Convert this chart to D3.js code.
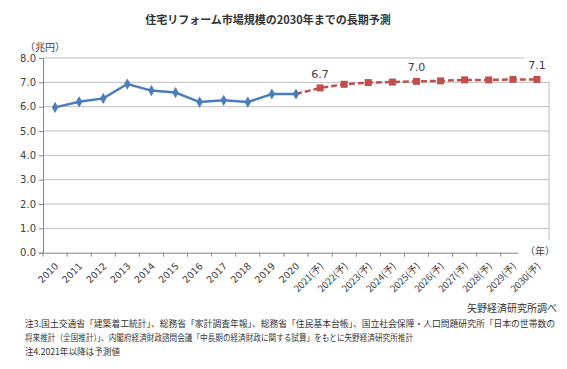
<!DOCTYPE html>
<html><head><meta charset="utf-8">
<script src="https://cdn.jsdelivr.net/npm/d3@7"></script>
<style>body{margin:0;background:#fff}svg{display:block}</style>
</head><body><svg id="c" width="567" height="369"></svg>
<script>
const titleText = "住宅リフォーム市場規模の2030年までの長期予測";
const actualYears = ["2010","2011","2012","2013","2014","2015","2016","2017","2018","2019","2020"];
const actualValues = [5.97,6.2,6.34,6.93,6.66,6.58,6.19,6.26,6.19,6.52,6.52];
const forecastYears = ["2021(予)","2022(予)","2023(予)","2024(予)","2025(予)","2026(予)","2027(予)","2028(予)","2029(予)","2030(予)"];
const forecastValues = [6.77,6.92,6.99,7.01,7.04,7.06,7.1,7.1,7.12,7.12];
const yTicks = [0,1,2,3,4,5,6,7,8];
const labelYears = ["2021(予)","2025(予)","2030(予)"];
const labelTexts = ["6.7","7.0","7.1"];
const yUnit = "（兆円）";
const xUnit = "（年）";
const sourceText = "矢野経済研究所調べ";
const notes = [
 "注3.国土交通省「建築着工統計」、総務省「家計調査年報」、総務省「住民基本台帳」、国立社会保障・人口問題研究所「日本の世帯数の",
 "将来推計（全国推計）」、内閣府経済財政諮問会議「中長期の経済財政に関する試算」をもとに矢野経済研究所推計",
 "注4.2021年以降は予測値"
];

const svg = d3.select("#c");
const JP = "'Noto Sans CJK JP','Noto Sans',sans-serif";
const NUM = "'DejaVu Sans',Verdana,sans-serif";
const cats = actualYears.concat(forecastYears);
const x = d3.scaleBand().domain(cats).range([43,549]);
const y = d3.scaleLinear().domain([0,8]).range([252.7,58]);
const xc = c => x(c) + x.bandwidth()/2;

// title
svg.append("text").attr("x",268).attr("y",24).attr("text-anchor","middle")
  .attr("font-family",JP).attr("font-size",11).attr("font-weight","bold").attr("fill","#333")
  .text(titleText);

// gridlines
svg.append("g").selectAll("line").data(yTicks.filter(d=>d>0)).join("line")
  .attr("x1",43).attr("x2",549).attr("y1",d=>y(d)).attr("y2",d=>y(d))
  .attr("stroke","#bdbdbd").attr("stroke-width",1);
// right border
svg.append("line").attr("x1",549).attr("x2",549).attr("y1",y(8)).attr("y2",y(0))
  .attr("stroke","#bdbdbd");

// y axis
const ya = svg.append("g").attr("transform","translate(43,0)")
  .call(d3.axisLeft(y).tickValues(yTicks).tickFormat(d3.format(".1f")).tickSize(4).tickPadding(3));
ya.select(".domain").attr("stroke","#868686");
ya.selectAll(".tick line").attr("stroke","#868686");
ya.selectAll("text").attr("font-family",NUM).attr("font-size",10).attr("fill","#404040");

// x axis
const xa = svg.append("g").attr("transform",`translate(0,${y(0)})`)
  .call(d3.axisBottom(x).tickSize(0).tickFormat(""));
xa.select(".domain").attr("stroke","#868686");
svg.append("g").selectAll("line").data(cats.concat([null])).join("line")
  .attr("x1",(d,i)=>43+i*x.step()).attr("x2",(d,i)=>43+i*x.step())
  .attr("y1",y(0)).attr("y2",y(0)+4).attr("stroke","#868686");
svg.append("g").selectAll("text").data(cats).join("text")
  .attr("transform",d=>`translate(${xc(d)+4},${y(0)+14}) rotate(-45)`)
  .attr("text-anchor","end").attr("font-family",d=>d.length>4?JP:NUM)
  .attr("font-size",9.5).attr("fill","#404040").text(d=>d);

// unit labels
svg.append("text").attr("x",25).attr("y",51).attr("font-family",JP).attr("font-size",10).attr("fill","#404040").text(yUnit);
svg.append("rect").attr("x",518).attr("y",240).attr("width",45).attr("height",22).attr("fill","#fff");
svg.append("text").attr("x",525).attr("y",255).attr("font-family",JP).attr("font-size",10).attr("fill","#404040").text(xUnit);

// label boxes
const lab = labelYears.map((c,i)=>{
  const v = forecastValues[forecastYears.indexOf(c)];
  return {c, t: labelTexts[i], x: xc(c), b: y(v)-10};
});
svg.append("g").selectAll("rect").data(lab).join("rect")
  .attr("x",d=>d.x-13).attr("width",26).attr("y",d=>d.b-12)
  .attr("height",d=>Math.min(24, y(7)-1-(d.b-12))).attr("fill","#fff");

// series
const blue = "#4a7ebb", red = "#c0504d";
const line = d3.line().x(d=>xc(d[0])).y(d=>y(d[1]));
const act = actualYears.map((c,i)=>[c,actualValues[i]]);
const fc = [[actualYears[actualYears.length-1], actualValues[actualValues.length-1]]]
  .concat(forecastYears.map((c,i)=>[c,forecastValues[i]]));
svg.append("path").datum(fc).attr("d",line).attr("fill","none").attr("stroke",red)
  .attr("stroke-width",2.5).attr("stroke-dasharray","6,3");
svg.append("path").datum(act).attr("d",line).attr("fill","none").attr("stroke",blue)
  .attr("stroke-width",2.5);
svg.append("g").selectAll("path").data(act).join("path")
  .attr("transform",d=>`translate(${xc(d[0])},${y(d[1])})`)
  .attr("d",d3.symbol(d3.symbolDiamond,36)).attr("fill",blue);
svg.append("g").selectAll("rect").data(fc.slice(1)).join("rect")
  .attr("x",d=>xc(d[0])-3.5).attr("y",d=>y(d[1])-3.5).attr("width",7).attr("height",7).attr("fill",red);

// data labels
svg.append("g").selectAll("text").data(lab).join("text")
  .attr("x",d=>d.x).attr("y",d=>d.b).attr("text-anchor","middle")
  .attr("font-family",NUM).attr("font-size",11).attr("fill","#404040").text(d=>d.t);

// source and notes
svg.append("text").attr("x",557).attr("y",312).attr("text-anchor","end")
  .attr("font-family",JP).attr("font-size",10).attr("fill","#333").text(sourceText);
const noteW = [530, 388, null];
svg.append("g").selectAll("text").data(notes).join("text")
  .attr("x",25).attr("y",(d,i)=>327+i*14).attr("font-family",JP).attr("font-size",8.6).attr("fill","#333")
  .each(function(d,i){ if(noteW[i]) d3.select(this).attr("textLength",noteW[i]).attr("lengthAdjust","spacingAndGlyphs"); })
  .text(d=>d);
</script></body></html>
